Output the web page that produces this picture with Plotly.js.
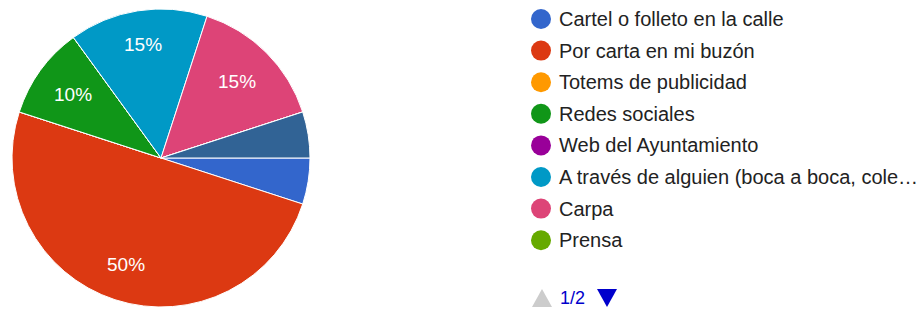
<!DOCTYPE html>
<html>
<head>
<meta charset="utf-8">
<script src="https://cdn.plot.ly/plotly-3.0.1.min.js"></script>
<style>html,body{margin:0;padding:0;background:#fff;}#chart{width:920px;height:311px;}</style>
</head>
<body>
<div id="chart"></div>
<script>
// Slice data (order as in legend; last item is on legend page 2)
const labels = [
  "Cartel o folleto en la calle",
  "Por carta en mi buzón",
  "Totems de publicidad",
  "Redes sociales",
  "Web del Ayuntamiento",
  "A través de alguien (boca a boca, cole…",
  "Carpa",
  "Prensa",
  "Otros"
];
const values = [5, 50, 0, 10, 0, 15, 15, 0, 5];
const colors = ["#3366cc", "#dc3912", "#ff9900", "#109618", "#990099", "#0099c6", "#dd4477", "#66aa00", "#316395"];
const legendCount = 8;  // items shown on legend page 1
const pageText = "1/2";

const total = values.reduce((a, b) => a + b, 0);
const FONT = "Liberation Sans, Arial, sans-serif";

const W = 920, H = 311;
const cx = 161, cy = 158, R = 149;
const startDeg = 90;

const trace = {
  type: "pie",
  labels: labels,
  values: values,
  textinfo: "none",
  sort: false,
  direction: "clockwise",
  rotation: startDeg,
  marker: {colors: colors, line: {color: "#ffffff", width: 1}},
  hoverinfo: "label+percent",
  showlegend: false,
  domain: {x: [(cx - R) / W, (cx + R) / W], y: [(H - cy - R) / H, (H - cy + R) / H]}
};

const shapes = [];
const annotations = [];

// percentage labels placed along each slice's bisector (Google Charts style:
// diagonal labels sit a bit closer to the centre so the text box stays inside)
let cum = 0;
values.forEach(v => {
  const frac = v / total;
  const mid = (startDeg + (cum + v / 2) / total * 360) * Math.PI / 180;
  cum += v;
  if (frac >= 0.1) {
    const r = (0.79 - 0.065 * Math.abs(Math.sin(2 * mid))) * R;
    const px = cx + r * Math.sin(mid), py = cy - r * Math.cos(mid);
    annotations.push({xref: "paper", yref: "paper", x: px / W, y: 1 - py / H,
      xanchor: "center", yanchor: "middle", showarrow: false,
      text: Math.round(frac * 100) + "%",
      font: {family: FONT, size: 19, color: "#ffffff"}});
  }
});

const lx = 541, ly0 = 19, dy = 31.6, cr = 10;
for (let i = 0; i < legendCount; i++) {
  const y = ly0 + i * dy;
  shapes.push({type: "circle", xref: "paper", yref: "paper",
    x0: (lx - cr) / W, x1: (lx + cr) / W, y0: 1 - (y + cr) / H, y1: 1 - (y - cr) / H,
    fillcolor: colors[i], line: {width: 0}});
  annotations.push({xref: "paper", yref: "paper", x: 557 / W, y: 1 - y / H,
    xanchor: "left", yanchor: "middle", showarrow: false, text: labels[i],
    font: {family: FONT, size: 20, color: "#222222"}});
}
// paging controls
const py = 298;
shapes.push({type: "path", xref: "paper", yref: "paper",
  path: `M ${532/W} ${1-(py+9)/H} L ${552/W} ${1-(py+9)/H} L ${542/W} ${1-(py-9)/H} Z`,
  fillcolor: "#cccccc", line: {width: 0}});
shapes.push({type: "path", xref: "paper", yref: "paper",
  path: `M ${597/W} ${1-(py-9)/H} L ${617/W} ${1-(py-9)/H} L ${607/W} ${1-(py+9)/H} Z`,
  fillcolor: "#0000cc", line: {width: 0}});
annotations.push({xref: "paper", yref: "paper", x: 558 / W, y: 1 - py / H,
  xanchor: "left", yanchor: "middle", showarrow: false, text: pageText,
  font: {family: FONT, size: 18, color: "#0000cc"}});

const layout = {
  width: W, height: H,
  margin: {l: 0, r: 0, t: 0, b: 0, pad: 0},
  paper_bgcolor: "#ffffff",
  showlegend: false,
  shapes: shapes,
  annotations: annotations
};

Plotly.newPlot("chart", [trace], layout, {displayModeBar: false, staticPlot: true});
</script>
</body>
</html>
